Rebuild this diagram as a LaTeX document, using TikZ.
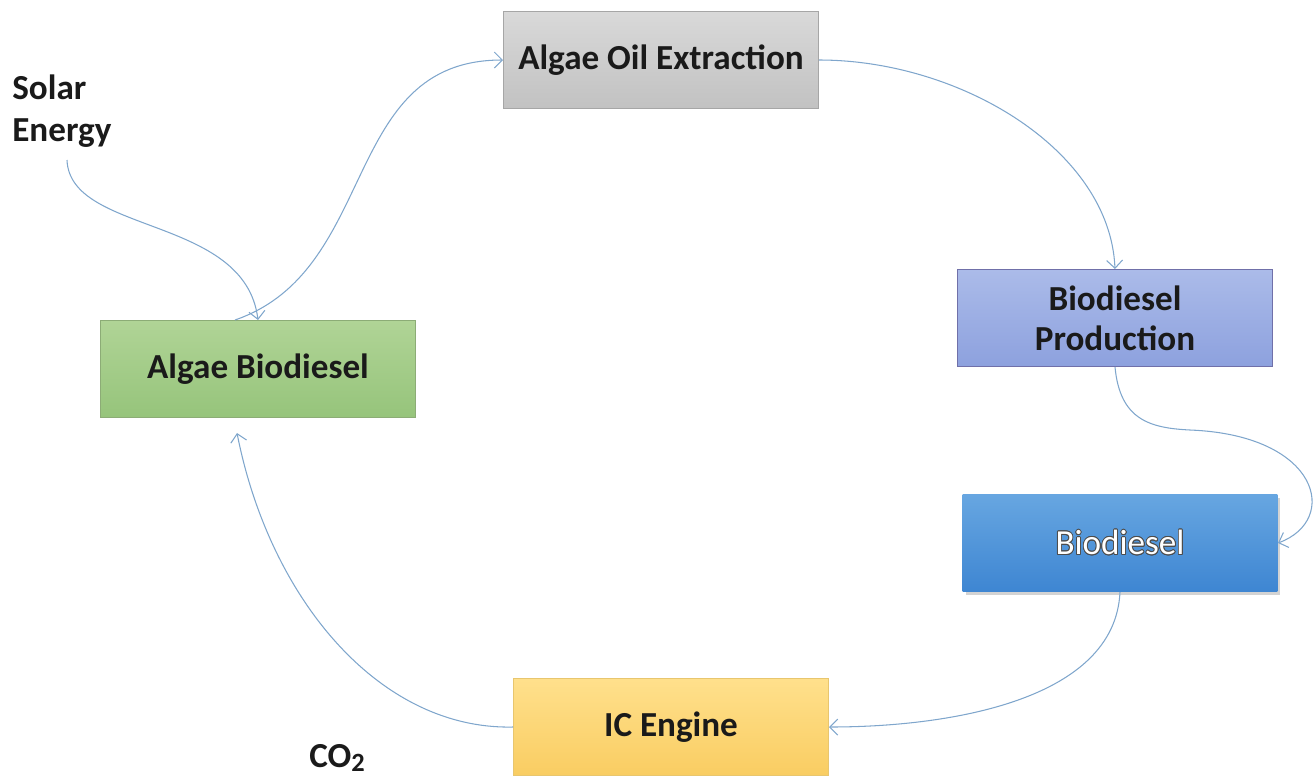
\documentclass[tikz,border=0pt]{standalone}
\usepackage{fontspec}
\setmainfont{Carlito}
\usepackage{contour}
\contourlength{0.5pt}
\usetikzlibrary{arrows.meta,shadows}

\definecolor{linkblue}{HTML}{7FA6CC}
\definecolor{inkdark}{HTML}{1A1A1A}

\tikzstyle{stage}=[rectangle, minimum width=6.3cm, minimum height=1.94cm, align=center,
  font=\fontsize{20}{23}\selectfont\bfseries, text=inkdark, line width=0.6pt]
\tikzstyle{label}=[font=\fontsize{20}{24}\selectfont\bfseries, text=inkdark, align=left]
\tikzstyle{arrow}=[linkblue, line width=0.6pt, -{Straight Barb[length=1.6mm,width=3.2mm]}]

\begin{document}
\begin{tikzpicture}[x=0.02cm, y=-0.02cm]
      \useasboundingbox (0,0) rectangle (1313,779);

      \node[stage, draw=gray!70, top color=gray!30, bottom color=gray!48] (aoe) at (661, 60) {Algae Oil Extraction};
      \node[stage, draw=blue!25!gray!90, top color={rgb,255:red,171;green,187;blue,233}, bottom color={rgb,255:red,141;green,161;blue,222}] (bp) at (1115, 318) {Biodiesel\\Production};
      \node[stage, top color={rgb,255:red,103;green,166;blue,225}, bottom color={rgb,255:red,62;green,134;blue,210},
        drop shadow={opacity=0.35, shadow xshift=0.06cm, shadow yshift=-0.06cm}, font=\fontsize{20}{23}\selectfont, text=white] (bd) at (1120, 543) {\contour{gray!60!black}{Biodiesel}};
      \node[stage, draw={rgb,255:red,232;green,198;blue,110}, top color={rgb,255:red,255;green,224;blue,140}, bottom color={rgb,255:red,249;green,205;blue,98}] (ic) at (671, 727) {IC Engine};
      \node[stage, draw={rgb,255:red,140;green,172;blue,118}, top color={rgb,255:red,176;green,212;blue,150}, bottom color={rgb,255:red,150;green,196;blue,123}] (ab) at (258, 369) {Algae Biodiesel};

      \node[label, anchor=north west, inner sep=0pt] (solar) at (12, 74) {Solar\\Energy};
      \node[label] (co) at (337, 758) {CO\raisebox{-0.12em}{\fontsize{15}{15}\selectfont 2}};
      \coordinate (sunray) at (67, 160);

      \draw[arrow] (sunray) .. controls (70, 235) and (245, 215) .. (ab.north);
      \draw[arrow] ([xshift=-0.46cm]ab.north) .. controls (380, 270) and (340, 60) .. (aoe.west);
      \draw[arrow] (aoe.east) .. controls (960, 60) and (1110, 150) .. (bp.north);
      \draw[arrow] (bp.south) .. controls (1120, 420) and (1150, 428) .. (1190, 430)
        .. controls (1320, 435) and (1340, 520) .. (bd.east);
      \draw[arrow] (bd.south) .. controls (1115, 700) and (950, 727) .. (ic.east);
      \draw[arrow] (ic.west) .. controls (380, 730) and (270, 600) .. ([xshift=-0.42cm,yshift=-0.3cm]ab.south);
    \end{tikzpicture}
\end{document}
